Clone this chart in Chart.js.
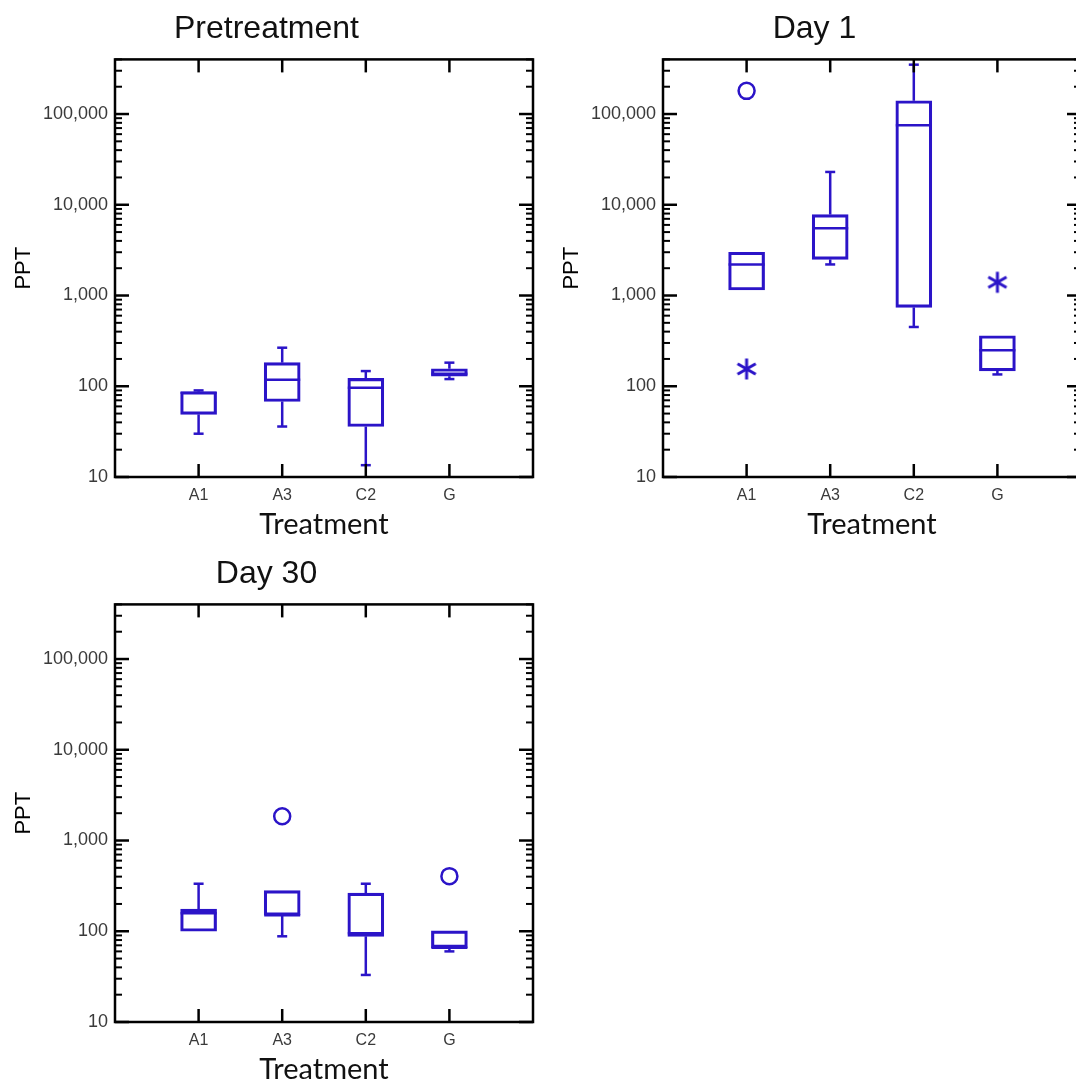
<!DOCTYPE html>
<html>
<head>
<meta charset="utf-8">
<script src="https://cdn.jsdelivr.net/npm/chart.js@4.4.1/dist/chart.umd.min.js"></script>
<style>
  html, body { margin: 0; padding: 0; background: #fff; overflow: hidden; }
  #page { position: relative; width: 1076px; height: 1088px; overflow: hidden; }
  canvas { position: absolute; }
  #pre   { left: 0;     top: 0; }
  #day1  { left: 548px; top: 0; }
  #day30 { left: 0;     top: 545px; }
</style>
</head>
<body>
<div id="page">
  <canvas id="pre" width="545" height="545"></canvas>
  <canvas id="day1" width="545" height="545"></canvas>
  <canvas id="day30" width="545" height="545"></canvas>
</div>
<script>
const TREATMENTS = ['A1', 'A3', 'C2', 'G'];
const Y_TICKS = [10, 100, 1000, 10000, 100000];
const Y_MIN = 10;
const Y_MAX = 400000;

// Pretreatment
const PRE_LOW  = [30, 36, 13.5, 120];
const PRE_Q1   = [49, 68, 36, 129];
const PRE_MED  = [85, 118, 96, 137];
const PRE_Q3   = [87, 182, 122, 156];
const PRE_HIGH = [90, 266, 147, 182];
const PRE_CIRCLES = [];
const PRE_STARS   = [];

// Day 1
const D1_LOW  = [1150, 2200, 450, 135];
const D1_Q1   = [1150, 2500, 740, 148];
const D1_MED  = [2200, 5500, 75000, 250];
const D1_Q3   = [3000, 7800, 140000, 360];
const D1_HIGH = [3000, 23000, 350000, 360];
const D1_CIRCLES = [{ x: 'A1', y: 180000 }];
const D1_STARS   = [{ x: 'A1', y: 155 }, { x: 'G', y: 1400 }];

// Day 30
const D30_LOW  = [100, 88, 33, 60];
const D30_Q1   = [100, 150, 88, 66];
const D30_MED  = [158, 150, 95, 66];
const D30_Q3   = [175, 280, 263, 101];
const D30_HIGH = [334, 280, 334, 101];
const D30_CIRCLES = [{ x: 'A3', y: 1850 }, { x: 'G', y: 405 }];
const D30_STARS   = [];

const BLUE = '#2b14c8';
const SANS = '"Liberation Sans", Arial, sans-serif';
const TICK_GREY = '#3a3a3a';

// six-armed asterisk used for the extreme points
function asterisk(r, lw) {
  const c = document.createElement('canvas');
  const s = Math.ceil(2 * r + lw + 2);
  c.width = c.height = s;
  const ctx = c.getContext('2d');
  ctx.strokeStyle = BLUE;
  ctx.lineWidth = lw;
  ctx.translate(s / 2, s / 2);
  [90, 30, -30].forEach(a => {
    const t = a * Math.PI / 180;
    ctx.beginPath();
    ctx.moveTo(-r * Math.cos(t), -r * Math.sin(t));
    ctx.lineTo(r * Math.cos(t), r * Math.sin(t));
    ctx.stroke();
  });
  return c;
}
const STAR = asterisk(10.5, 3);

function seg(ctx, x1, y1, x2, y2) {
  ctx.beginPath();
  ctx.moveTo(x1, y1);
  ctx.lineTo(x2, y2);
  ctx.stroke();
}

// medians, whiskers and caps on top of the floating-bar boxes
const boxWhiskers = {
  id: 'boxWhiskers',
  afterDatasetsDraw(chart) {
    const ds = chart.data.datasets[0];
    const meta = chart.getDatasetMeta(0);
    const y = chart.scales.y;
    const ctx = chart.ctx;
    const cap = 5;
    ctx.save();
    ctx.strokeStyle = ds.borderColor;
    ctx.lineWidth = ds.borderWidth;
    meta.data.forEach((bar, i) => {
      const box = ds.data[i];
      if (!box) return;
      const x = bar.x, half = bar.width / 2;
      const q1 = y.getPixelForValue(box[0]);
      const q3 = y.getPixelForValue(box[1]);
      const med = y.getPixelForValue(ds.median[i]);
      const lo = y.getPixelForValue(ds.low[i]);
      const hi = y.getPixelForValue(ds.high[i]);
      seg(ctx, x - half, med, x + half, med);
      if (hi < q3 - 1) {
        seg(ctx, x, q3, x, hi);
        seg(ctx, x - cap, hi, x + cap, hi);
      }
      if (lo > q1 + 1) {
        seg(ctx, x, q1, x, lo);
        seg(ctx, x - cap, lo, x + cap, lo);
      }
    });
    ctx.restore();
  },
};

// closed frame with inward log ticks on both sides and category ticks top and bottom
const frameTicks = {
  id: 'frameTicks',
  afterDraw(chart) {
    const { ctx, chartArea: a, scales: { x, y } } = chart;
    ctx.save();
    ctx.strokeStyle = '#000';
    for (let d = Y_MIN; d < Y_MAX; d *= 10) {
      for (let k = 1; k < 10; k++) {
        const v = d * k;
        if (v > Y_MAX) break;
        const py = y.getPixelForValue(v);
        const len = k === 1 ? 14 : 7;
        ctx.lineWidth = k === 1 ? 2.5 : 2;
        seg(ctx, a.left, py, a.left + len, py);
        seg(ctx, a.right, py, a.right - len, py);
      }
    }
    ctx.lineWidth = 2.5;
    TREATMENTS.forEach((t, i) => {
      const px = x.getPixelForValue(i + 1);
      seg(ctx, px, a.bottom, px, a.bottom - 13);
      seg(ctx, px, a.top, px, a.top + 13);
    });
    ctx.strokeRect(a.left, a.top, a.right - a.left, a.bottom - a.top);
    ctx.restore();
  },
};

function boxChart(id, title, s) {
  const pad = arr => [null, ...arr, null];
  return new Chart(document.getElementById(id), {
    type: 'bar',
    data: {
      labels: ['', ...TREATMENTS, ''],
      datasets: [
        {
          type: 'bar',
          data: pad(s.q1.map((q, i) => [q, s.q3[i]])),
          low: pad(s.low), median: pad(s.med), high: pad(s.high),
          borderColor: BLUE, borderWidth: 2.5, backgroundColor: 'rgba(0,0,0,0)',
          borderSkipped: false, barThickness: 36,
        },
        {
          type: 'scatter', data: s.circles,
          pointStyle: 'circle', pointRadius: 8, borderWidth: 2.5,
          borderColor: BLUE, backgroundColor: 'rgba(0,0,0,0)',
        },
        {
          type: 'scatter', data: s.stars,
          pointStyle: STAR, pointRadius: 10,
        },
      ],
    },
    options: {
      responsive: false, animation: false,
      layout: { padding: { left: 0, right: 12, top: 0, bottom: 0 } },
      plugins: {
        legend: { display: false },
        tooltip: { enabled: false },
        title: {
          display: true, text: title, color: '#111',
          font: { family: SANS, size: 32, weight: 'normal' },
          padding: { top: 10, bottom: 11 },
        },
      },
      scales: {
        x: {
          type: 'category', offset: false,
          grid: { display: false, drawTicks: false }, border: { display: false },
          ticks: { color: TICK_GREY, font: { family: SANS, size: 16 }, padding: 9, autoSkip: false, maxRotation: 0 },
          title: { display: true, text: 'Treatment', color: '#111', font: { family: 'Lato, "Open Sans", sans-serif', size: 29 }, padding: { top: 0, bottom: 3 } },
          afterFit: sc => { sc.height = 68; },
        },
        y: {
          type: 'logarithmic', min: Y_MIN, max: Y_MAX,
          grid: { display: false, drawTicks: false }, border: { display: false },
          afterBuildTicks: sc => { sc.ticks = Y_TICKS.map(v => ({ value: v })); },
          ticks: { color: TICK_GREY, font: { family: SANS, size: 18 }, padding: 7, autoSkip: false,
                   callback: v => Number(v).toLocaleString('en-US') },
          title: { display: true, text: 'PPT', color: '#000', font: { family: SANS, size: 22 }, padding: { top: 11, bottom: 0 } },
          afterFit: sc => { sc.width = 115; },
        },
      },
    },
    plugins: [boxWhiskers, frameTicks],
  });
}

boxChart('pre', 'Pretreatment', {
  low: PRE_LOW, q1: PRE_Q1, med: PRE_MED, q3: PRE_Q3, high: PRE_HIGH,
  circles: PRE_CIRCLES, stars: PRE_STARS,
});
boxChart('day1', 'Day 1', {
  low: D1_LOW, q1: D1_Q1, med: D1_MED, q3: D1_Q3, high: D1_HIGH,
  circles: D1_CIRCLES, stars: D1_STARS,
});
boxChart('day30', 'Day 30', {
  low: D30_LOW, q1: D30_Q1, med: D30_MED, q3: D30_Q3, high: D30_HIGH,
  circles: D30_CIRCLES, stars: D30_STARS,
});
</script>
</body>
</html>
